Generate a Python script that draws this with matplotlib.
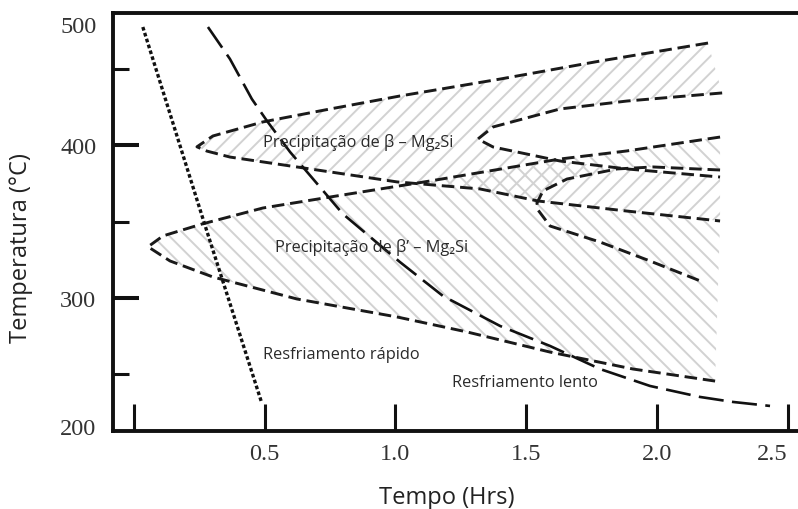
import matplotlib
import matplotlib.pyplot as plt
import numpy as np

matplotlib.use("Agg")

# curves: time (h), temperature (°C)
rapid_t = [0.034, 0.27, 0.489]
rapid_T = [477.5, 348.5, 231.0]

slow_t = [0.283, 0.367, 0.451, 0.509, 0.597, 0.799, 1.017, 1.182, 1.400, 1.591, 1.782, 1.973, 2.164, 2.291, 2.432]
slow_T = [477.5, 456.6, 430.3, 415.9, 395.6, 355.0, 323.5, 301.2, 281.6, 268.5, 253.4, 242.3, 235.1, 231.8, 229.2]

# beta start C-curve (upper / lower branch, both starting at the nose)
beta_up_t = [0.241, 0.302, 0.493, 0.750, 1.017, 1.400, 1.782, 2.195]
beta_up_T = [399.0, 406.1, 415.3, 423.8, 432.3, 443.4, 455.2, 467.0]
beta_low_t = [0.241, 0.279, 0.367, 0.623, 1.006, 1.323, 1.545, 1.885, 2.241]
beta_low_T = [399.0, 396.2, 392.3, 385.8, 376.0, 371.4, 363.5, 356.9, 350.4]

# beta finish C-curve
beta_fin_up_t = [1.315, 1.373, 1.629, 1.885, 2.249]
beta_fin_up_T = [404.1, 412.0, 423.8, 429.0, 434.3]
beta_fin_low_t = [1.315, 1.373, 1.629, 1.885, 2.241]
beta_fin_low_T = [404.1, 398.9, 389.7, 384.5, 379.2]

# beta' start C-curve
bp_up_t = [0.054, 0.111, 0.260, 0.493, 0.750, 1.132, 1.629, 1.885, 2.241]
bp_up_T = [333.5, 340.6, 348.4, 358.9, 366.1, 376.6, 391.0, 396.3, 405.4]
bp_low_t = [0.054, 0.138, 0.302, 0.623, 1.006, 1.273, 1.591, 1.908, 2.222]
bp_low_T = [333.5, 324.2, 313.7, 299.3, 287.5, 277.7, 264.5, 253.4, 245.5]

# beta' finish C-curve
bp_fin_up_t = [1.541, 1.564, 1.656, 1.847, 1.985, 2.241]
bp_fin_up_T = [362.2, 370.1, 377.9, 384.5, 385.8, 383.8]
bp_fin_low_t = [1.541, 1.545, 1.591, 1.782, 1.973, 2.176]
bp_fin_low_T = [362.2, 357.6, 347.1, 336.6, 324.2, 310.4]

x_ticks = [0, 0.5, 1.0, 1.5, 2.0, 2.5]
x_labels = ["", "0.5", "1.0", "1.5", "2.0", "2.5"]
y_ticks = [216, 300, 400, 479.5]
y_labels = ["200", "300", "400", "500"]
y_minor = [250, 350, 450]

sans = ["Open Sans", "DejaVu Sans"]
serif = "Liberation Serif"
hatch_gray = "#d2d2d2"
plt.rcParams["hatch.linewidth"] = 1.4


def c_curve(up_t, up_T, low_t, low_T):
    return (np.concatenate([up_t[::-1], low_t[1:]]),
            np.concatenate([up_T[::-1], low_T[1:]]))


fig = plt.figure(figsize=(7.98, 5.10), dpi=100)
ax = fig.add_axes([0.1416, 0.153, 0.8584, 0.8196])
ax.set_xlim(-0.08, 2.539)
ax.set_ylim(212.8, 486.7)

# hatched zones: beta between start and finish curves
b_low_t = np.array(beta_low_t)
b_low_T = np.array(beta_low_T)
beta_zone_t = np.concatenate([beta_up_t, beta_fin_up_t[::-1], beta_fin_low_t[1:], b_low_t[::-1]])
beta_zone_T = np.concatenate([beta_up_T, beta_fin_up_T[::-1], beta_fin_low_T[1:], b_low_T[::-1]])
ax.fill(beta_zone_t, beta_zone_T, facecolor="none", edgecolor=hatch_gray, hatch="//", linewidth=0, zorder=1)

# beta' zone, cut out by its finish curve above the beta lower line
keep = b_low_t >= bp_fin_up_t[0]
bp_zone_t = np.concatenate([bp_up_t, bp_fin_up_t[::-1], b_low_t[keep], bp_low_t[::-1]])
bp_zone_T = np.concatenate([bp_up_T, bp_fin_up_T[::-1], b_low_T[keep], bp_low_T[::-1]])
ax.fill(bp_zone_t, bp_zone_T, facecolor="none", edgecolor=hatch_gray, hatch="\\\\", linewidth=0, zorder=1)

c_style = dict(color="#1a1a1a", lw=2.1, dashes=(4.3, 2.0), zorder=3)
for curve in [(beta_up_t, beta_up_T, beta_low_t, beta_low_T),
              (beta_fin_up_t, beta_fin_up_T, beta_fin_low_t, beta_fin_low_T),
              (bp_up_t, bp_up_T, bp_low_t, bp_low_T),
              (bp_fin_up_t, bp_fin_up_T, bp_fin_low_t, bp_fin_low_T)]:
    ct, cT = c_curve(*curve)
    ax.plot(ct, cT, **c_style)

ax.plot(rapid_t, rapid_T, color="#111111", lw=2.4, dashes=(1.1, 0.75), zorder=3)
ax.plot(slow_t, slow_T, color="#111111", lw=1.9, dashes=(9.5, 3.2), zorder=3)

# labels inside the diagram
txt = dict(family=sans, fontsize=11.8, va="center", color="#2a2a2a")
ax.text(0.493, 402.8, "Precipitação de β – Mg₂Si", **txt)
ax.text(0.539, 334.0, "Precipitação de β’ – Mg₂Si", **txt)
ax.text(0.493, 263.2, "Resfriamento rápido", **txt)
ax.text(1.216, 244.9, "Resfriamento lento", **txt)

# axes frame
for side in ["left", "bottom", "top"]:
    ax.spines[side].set_linewidth(2.8)
    ax.spines[side].set_color("#111111")
ax.spines["right"].set_visible(False)

ax.set_xticks(x_ticks, x_labels)
ax.set_yticks(y_ticks, y_labels)
ax.set_yticks(y_minor, minor=True)
ax.tick_params(axis="x", direction="in", length=19.5, width=2.2, pad=9, labelsize=17.5,
               labelcolor="#333333", color="#111111")
ax.tick_params(axis="y", which="major", direction="in", length=19, width=2.9, pad=12,
               labelsize=17.5, labelcolor="#333333", color="#111111")
ax.tick_params(axis="y", which="minor", direction="in", length=11.5, width=2.2, color="#111111")
for lab in ax.get_xticklabels() + ax.get_yticklabels():
    lab.set_family(serif)
ax.get_xticklabels()[-1].set_ha("right")
for i in (0, 3):
    ax.yaxis.get_major_ticks()[i].tick1line.set_visible(False)

ax.set_xlabel("Tempo (Hrs)", family=sans, fontsize=17, color="#222222")
ax.set_ylabel("Temperatura (°C)", family=sans, fontsize=17, color="#222222")
ax.xaxis.set_label_coords(0.4876, -0.13)
ax.yaxis.set_label_coords(-0.117, 0.441)

fig.savefig("out.png", dpi=100)
